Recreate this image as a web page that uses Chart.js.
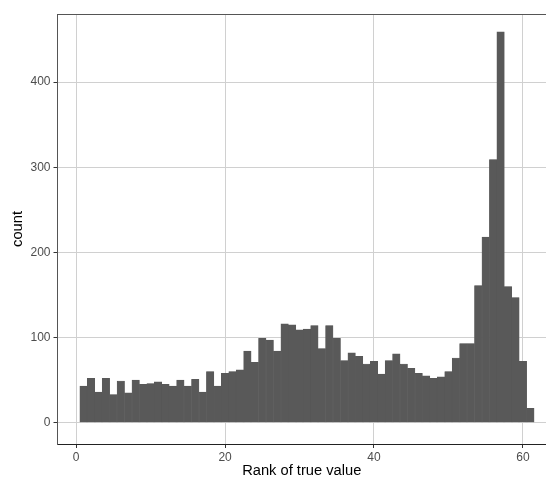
<!DOCTYPE html>
<html>
<head>
<meta charset="utf-8">
<script src="https://cdn.jsdelivr.net/npm/chart.js@4"></script>
<style>
  html, body { margin: 0; padding: 0; background: #fff; overflow: hidden; }
  #wrap { width: 546px; height: 480px; }
</style>
</head>
<body>
<div id="wrap"><canvas id="hist"></canvas></div>
<script>
const ranks = [1, 2, 3, 4, 5, 6, 7, 8, 9, 10, 11, 12, 13, 14, 15, 16, 17, 18, 19, 20,
  21, 22, 23, 24, 25, 26, 27, 28, 29, 30, 31, 32, 33, 34, 35, 36, 37, 38, 39, 40,
  41, 42, 43, 44, 45, 46, 47, 48, 49, 50, 51, 52, 53, 54, 55, 56, 57, 58, 59, 60, 61];
const counts = [43, 52, 36, 52, 33, 49, 35, 50, 45, 46, 48, 45, 43, 50, 43, 51, 36, 60, 43, 58,
  60, 62, 84, 71, 99, 97, 84, 116, 115, 109, 110, 114, 87, 114, 99, 73, 82, 78, 69, 72,
  57, 73, 81, 69, 64, 58, 55, 52, 54, 60, 76, 93, 93, 161, 218, 309, 459, 160, 147, 72, 17];
const xTicks = [0, 20, 40, 60];
const yTicks = [0, 100, 200, 300, 400];

// top edge of the panel (ggplot frame), the right edge is cut off by the image
const frameTop = {
  id: "frameTop",
  afterDraw(chart) {
    const { ctx, chartArea } = chart;
    ctx.save();
    ctx.strokeStyle = "#555555";
    ctx.lineWidth = 1;
    ctx.beginPath();
    ctx.moveTo(chartArea.left, chartArea.top + 0.5);
    ctx.lineTo(chartArea.right, chartArea.top + 0.5);
    ctx.stroke();
    ctx.restore();
  },
};

window.addEventListener("DOMContentLoaded", () => {
  const ctx = document.getElementById("hist").getContext("2d");
  new Chart(ctx, {
    type: "bar",
    data: {
      datasets: [
        {
          label: "count",
          data: ranks.map((r, i) => ({ x: r, y: counts[i] })),
          backgroundColor: "#595959",
          borderColor: "#595959",
          borderWidth: 0.5,
          barPercentage: 1,
          categoryPercentage: 1,
        },
      ],
    },
    options: {
      responsive: true,
      maintainAspectRatio: false,
      animation: false,
      layout: { padding: { top: 14, right: 0, left: 0, bottom: 0 } },
      plugins: {
        legend: { display: false },
        tooltip: { enabled: false },
      },
      scales: {
        x: {
          type: "linear",
          offset: false,
          min: -2.5,
          max: 63.1,
          afterBuildTicks: (s) => { s.ticks = xTicks.map((v) => ({ value: v })); },
          afterFit: (s) => { s.height = 36; },
          grid: { offset: false, color: "#d0d0d0", lineWidth: 1, tickLength: 4, tickColor: "#333333" },
          border: { display: true, color: "#222222", width: 1 },
          ticks: {
            color: "#4d4d4d",
            padding: 2,
            maxRotation: 0,
            font: { family: "Liberation Sans", size: 12 },
          },
          title: {
            display: true,
            text: "Rank of true value",
            color: "#000000",
            padding: { top: 0, bottom: 0 },
            font: { family: "Liberation Sans", size: 14.7 },
          },
        },
        y: {
          type: "linear",
          min: -25,
          max: 480,
          afterBuildTicks: (s) => { s.ticks = yTicks.map((v) => ({ value: v })); },
          afterFit: (s) => { s.width = 57.5; },
          grid: { color: "#d0d0d0", lineWidth: 1, tickLength: 4, tickColor: "#333333" },
          border: { display: true, color: "#555555", width: 1 },
          ticks: {
            color: "#4d4d4d",
            padding: 3,
            font: { family: "Liberation Sans", size: 12 },
          },
          title: {
            display: true,
            text: "count",
            color: "#000000",
            padding: { top: 9, bottom: 0 },
            font: { family: "Liberation Sans", size: 14.7 },
          },
        },
      },
    },
    plugins: [frameTop],
  });
});
</script>
</body>
</html>
